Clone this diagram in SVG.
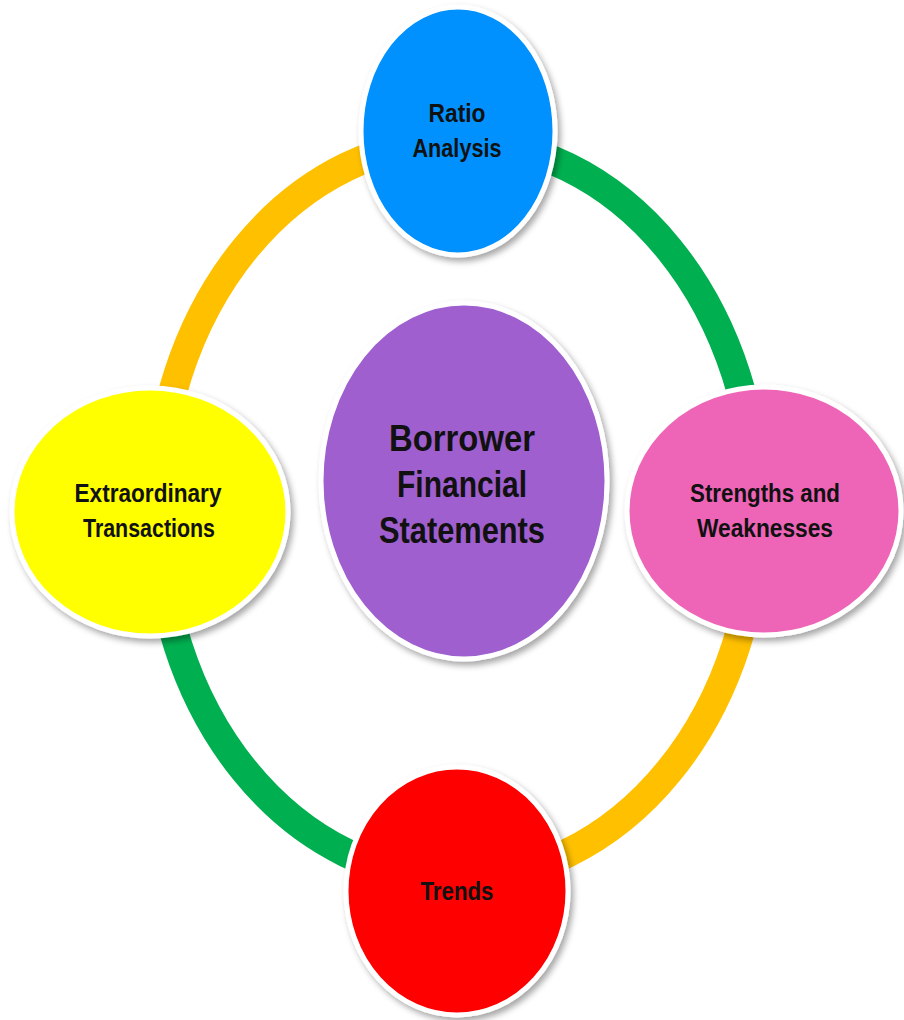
<svg xmlns="http://www.w3.org/2000/svg" width="904" height="1020" viewBox="0 0 904 1020">
  <defs>
    <filter id="shadow" x="-10%" y="-10%" width="125%" height="125%">
      <feDropShadow dx="3" dy="4" stdDeviation="3" flood-color="#000" flood-opacity="0.35"/>
    </filter>
  </defs>
  <style>
    .arc { fill: none; stroke-width: 29; }
    .orange { stroke: #FFC000; }
    .green { stroke: #00B050; }
    .node { stroke: #FFFFFF; stroke-width: 5; filter: url(#shadow); }
    .lbl { font-family: "Liberation Sans", Arial, sans-serif; font-weight: bold; fill: #111111; text-anchor: middle; }
    .small { font-size: 26px; }
    .big { font-size: 36px; }
  </style>
  <rect width="904" height="1020" fill="#FFFFFF"/>
  <g id="connectors">
    <path class="arc orange" d="M 457 141 A 300 369 0 0 0 157 510"/>
    <path class="arc green" d="M 457 141 A 300 369 0 0 1 757 510"/>
    <path class="arc orange" d="M 757 510 A 300 369 0 0 1 457 879"/>
    <path class="arc green" d="M 457 879 A 300 369 0 0 1 157 510"/>
  </g>
  <g id="center">
    <ellipse class="node" cx="464" cy="481" rx="143" ry="178" fill="#9F5FCF"/>
    <text class="lbl big" x="462" y="451" textLength="146" lengthAdjust="spacingAndGlyphs">Borrower</text>
    <text class="lbl big" x="462" y="497" textLength="130" lengthAdjust="spacingAndGlyphs">Financial</text>
    <text class="lbl big" x="462" y="543" textLength="166" lengthAdjust="spacingAndGlyphs">Statements</text>
  </g>
  <g id="ratio">
    <ellipse class="node" cx="458" cy="131" rx="97" ry="124" fill="#0091FF"/>
    <text class="lbl small" x="457" y="122" textLength="57" lengthAdjust="spacingAndGlyphs">Ratio</text>
    <text class="lbl small" x="457" y="157" textLength="89" lengthAdjust="spacingAndGlyphs">Analysis</text>
  </g>
  <g id="extraordinary">
    <ellipse class="node" cx="150" cy="512" rx="138" ry="124" fill="#FFFF00"/>
    <text class="lbl small" x="148" y="502" textLength="147" lengthAdjust="spacingAndGlyphs">Extraordinary</text>
    <text class="lbl small" x="149" y="537" textLength="132" lengthAdjust="spacingAndGlyphs">Transactions</text>
  </g>
  <g id="strengths">
    <ellipse class="node" cx="764" cy="511" rx="137" ry="124" fill="#EE65B8"/>
    <text class="lbl small" x="765" y="502" textLength="150" lengthAdjust="spacingAndGlyphs">Strengths and</text>
    <text class="lbl small" x="765" y="537" textLength="136" lengthAdjust="spacingAndGlyphs">Weaknesses</text>
  </g>
  <g id="trends">
    <ellipse class="node" cx="457" cy="891" rx="111" ry="124" fill="#FF0000"/>
    <text class="lbl small" x="457" y="900" textLength="73" lengthAdjust="spacingAndGlyphs">Trends</text>
  </g>
</svg>
